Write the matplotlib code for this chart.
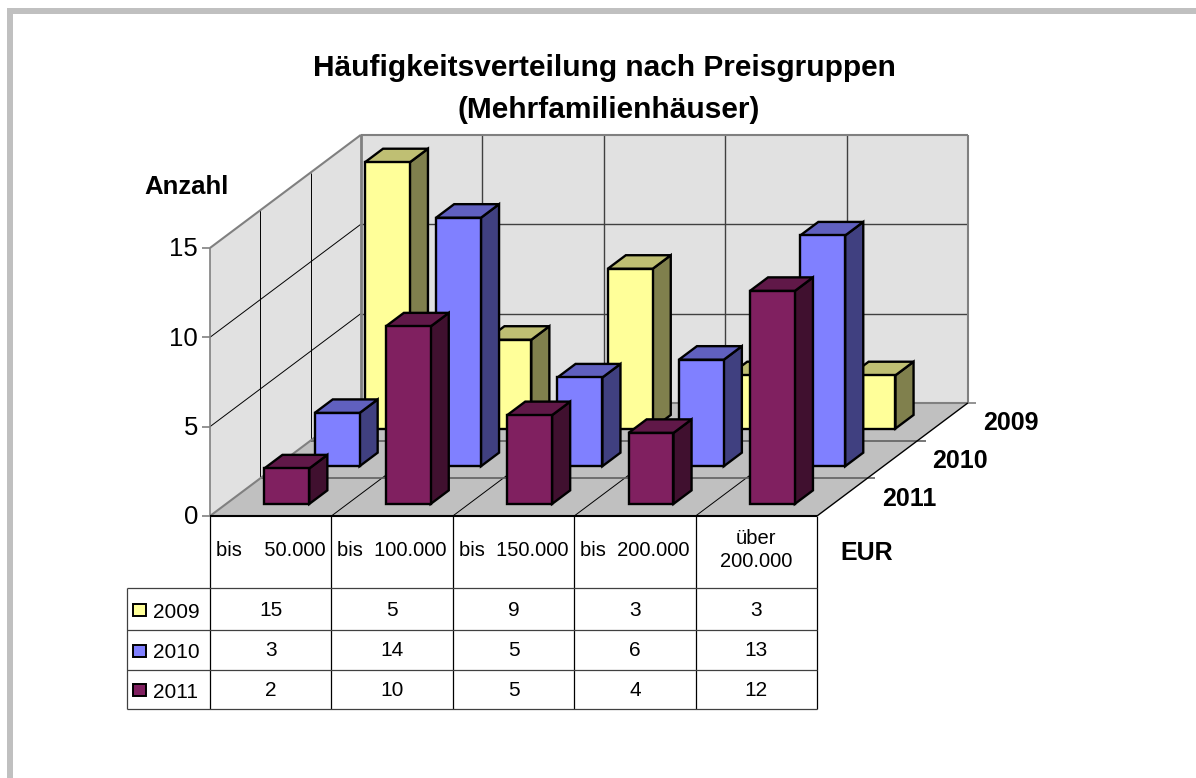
"""Fake-3D column chart with data table, price groups for Mehrfamilienhaeuser."""
import matplotlib
matplotlib.use('Agg')
import matplotlib.pyplot as plt
from matplotlib.patches import Polygon, Rectangle

categories = ['bis    50.000', 'bis  100.000', 'bis  150.000', 'bis  200.000', 'über\n200.000']
years = ['2009', '2010', '2011']
values_2009 = [15, 5, 9, 3, 3]
values_2010 = [3, 14, 5, 6, 13]
values_2011 = [2, 10, 5, 4, 12]
y_ticks = [0, 5, 10, 15]

FRONT = '#FFFF99', '#8080FF', '#802060'
TOP = '#BFBF73', '#6060BF', '#601848'
SIDE = '#80804D', '#404080', '#40102F'
WALL = '#E1E1E1'
FLOOR = '#C0C0C0'
EDGE = '#808080'
GRID = '#404040'

fig = plt.figure(figsize=(11.96, 7.78), dpi=100)
ax = fig.add_axes([0, 0, 1, 1])
ax.set_xlim(0, 1196)
ax.set_ylim(778, 0)
ax.axis('off')
plt.rcParams['font.family'] = ['Liberation Sans', 'DejaVu Sans']

# projection: c = category position, d = depth in series slots, v = value
X0, Y0 = 210, 516
CAT_W = 121.4
DX, DY = 50.3, -37.7
UNIT = 17.87
BAR_UNIT = 17.75


def pr(c, d, v=0, unit=UNIT):
    return (X0 + c * CAT_W + d * DX, Y0 + d * DY - v * unit)


def poly(pts, fc, ec='none', lw=0, z=1):
    ax.add_patch(Polygon(pts, closed=True, facecolor=fc, edgecolor=ec, linewidth=lw,
                         joinstyle='miter', zorder=z))


def line(a, b, c='black', lw=0.8, z=2):
    ax.plot([a[0], b[0]], [a[1], b[1]], color=c, lw=lw, zorder=z, solid_capstyle='butt')


n = len(categories)
top = y_ticks[-1]

# outer frame, only top and left are visible
ax.add_patch(Rectangle((7, 8), 1189, 5.5, fc='#C0C0C0', ec='none'))
ax.add_patch(Rectangle((7, 8), 6, 770, fc='#C0C0C0', ec='none'))

# walls and floor
poly([pr(0, 0), pr(0, 3), pr(0, 3, top), pr(0, 0, top)], WALL)
poly([pr(0, 3), pr(n, 3), pr(n, 3, top), pr(0, 3, top)], WALL)
poly([pr(0, 0), pr(n, 0), pr(n, 3), pr(0, 3)], FLOOR)

# grid on the walls
for v in y_ticks[1:-1]:
    line(pr(0, 0, v), pr(0, 3, v), 'black', 0.7)
    line(pr(0, 3, v), pr(n, 3, v), GRID, 1.0)
for c in range(1, n):
    line(pr(c, 3), pr(c, 3, top), GRID, 1.0)
for d in (1, 2):
    line(pr(0, d), pr(0, d, top), 'black', 0.7)

# grid on the floor
for c in range(1, n):
    line(pr(c, 0), pr(c, 3), 'black', 0.7)
for d in (1, 2):
    line(pr(0, d), pr(n, d), '#606060', 1.2)
    line(pr(n, d), (pr(n, d)[0] + 8, pr(n, d)[1]), '#606060', 1.2)

# wall outlines
line(pr(0, 3), pr(0, 3, top), EDGE, 2.0)
line(pr(0, 0, top), pr(0, 3, top), EDGE, 1.5)
line(pr(0, 3, top), pr(n, 3, top), EDGE, 1.5)
line(pr(n, 3), pr(n, 3, top), EDGE, 1.5)
line(pr(0, 0), pr(0, 3), EDGE, 1.5)
line(pr(0, 0), pr(0, 0, top), EDGE, 1.2)
line(pr(0, 3), pr(n, 3), EDGE, 1.5)
line(pr(n, 3), (pr(n, 3)[0] + 8, pr(n, 3)[1]), EDGE, 1.2)
line(pr(n, 0), pr(n, 3), 'black', 1.0)
line(pr(0, 0), pr(n, 0), 'black', 1.5, z=3)

# value ticks
for v in y_ticks:
    x, y = pr(0, 0, v)
    line((x - 8, y), (x, y), EDGE, 1.2)
    ax.text(x - 12, y + 1.5, str(v), ha='right', va='center', fontsize=18.5, color='black')

# bars, back row first
BW = 0.37
M = (1 - BW) / 2
D0, D1 = 0.32, 0.68
z = 5
for row, vals in enumerate([values_2009, values_2010, values_2011]):
    d = 2 - row
    for i, v in enumerate(vals):
        l, r = i + M, i + M + BW
        poly([pr(r, d + D0), pr(r, d + D1), pr(r, d + D1, v, BAR_UNIT), pr(r, d + D0, v, BAR_UNIT)],
             SIDE[row], 'black', 1.7, z)
        poly([pr(l, d + D0, v, BAR_UNIT), pr(r, d + D0, v, BAR_UNIT),
              pr(r, d + D1, v, BAR_UNIT), pr(l, d + D1, v, BAR_UNIT)],
             TOP[row], 'black', 1.7, z)
        poly([pr(l, d + D0), pr(r, d + D0), pr(r, d + D0, v, BAR_UNIT), pr(l, d + D0, v, BAR_UNIT)],
             FRONT[row], 'black', 1.7, z)
        z += 1

# series names on the depth axis
for d, name in enumerate(years[::-1]):
    x, y = pr(n, d + 0.5)
    ax.text(x + 40, y + 1.5, name, ha='left', va='center', fontsize=18, fontweight='bold')

# data table
col_x = [pr(c, 0)[0] for c in range(n + 1)]
row_y = [516, 588, 630, 670, 709]
LEFT = 127
for cx in col_x:
    line((cx, row_y[0]), (cx, row_y[-1]), 'black', 0.9)
line((LEFT, row_y[1]), (LEFT, row_y[-1]), '#404040', 0.9)
for ry in row_y[1:]:
    line((LEFT, ry), (col_x[-1], ry), '#404040', 0.9)

for c, name in enumerate(categories):
    cx = (col_x[c] + col_x[c + 1]) / 2
    ax.text(cx, 550, name, ha='center', va='center', fontsize=14.5, linespacing=1.3)

for row, (name, vals) in enumerate(zip(years, [values_2009, values_2010, values_2011])):
    cy = (row_y[row + 1] + row_y[row + 2]) / 2
    ax.add_patch(Rectangle((132.5, cy - 5.5), 13, 12, fc=FRONT[row], ec='black', lw=1.4))
    ax.text(153, cy + 3, name, ha='left', va='center', fontsize=15)
    for c, v in enumerate(vals):
        cx = (col_x[c] + col_x[c + 1]) / 2
        ax.text(cx, cy + 1, str(v), ha='center', va='center', fontsize=15)

# titles
ax.text(604, 68, 'Häufigkeitsverteilung nach Preisgruppen', ha='center', va='center',
        fontsize=21.5, fontweight='bold')
ax.text(609, 110, '(Mehrfamilienhäuser)', ha='center', va='center', fontsize=21.5, fontweight='bold')
ax.text(187, 187, 'Anzahl', ha='center', va='center', fontsize=18.5, fontweight='bold')
ax.text(867, 553, 'EUR', ha='center', va='center', fontsize=18, fontweight='bold')

fig.savefig('out.png', dpi=100, facecolor='white')
